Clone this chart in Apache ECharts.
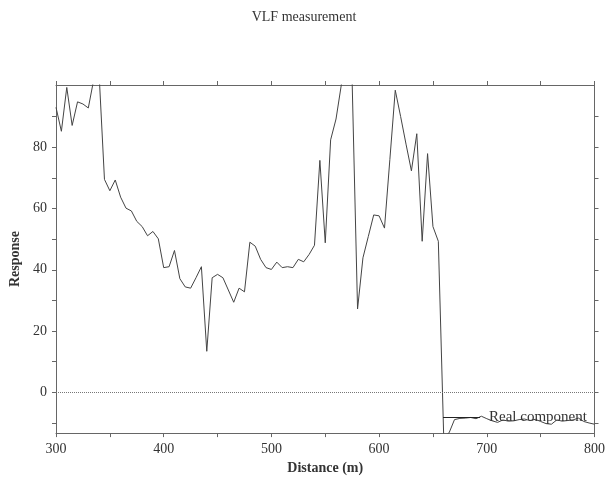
<!DOCTYPE html>
<html>
<head>
<meta charset="utf-8">
<script src="https://cdn.jsdelivr.net/npm/echarts@6/dist/echarts.min.js"></script>
<style>html,body{margin:0;padding:0;background:#fff}#c{width:608px;height:480px}</style>
</head>
<body>
<div id="c"></div>
<script>
var titleText = 'VLF measurement';
var seriesName = 'Real component';
var xName = 'Distance (m)';
var yName = 'Response';

var distance = [300,305,310,315,320,325,330,335,340,345,350,355,360,365,370,375,380,385,390,395,
  400,405,410,415,420,425,430,435,440,445,450,455,460,465,470,475,480,485,490,495,
  500,505,510,515,520,525,530,535,540,545,550,555,560,565,570,575,580,585,590,595,
  600,605,610,615,620,625,630,635,640,645,650,655,660,665,670,675,680,685,690,695,
  700,705,710,715,720,725,730,735,740,745,750,755,760,765,770,775,780,785,790,795,800];
var response = [93.0,85.2,99.5,87.1,94.8,94.1,92.8,102,104,69.5,65.8,69.3,63.7,60.1,59.2,55.8,54.1,51.1,52.5,50.1,
  40.7,41.0,46.3,37.1,34.4,34.0,37.4,41.0,13.4,37.4,38.5,37.4,33.4,29.4,34.0,32.8,49.0,47.7,43.4,40.7,
  40.1,42.5,40.7,41.0,40.7,43.4,42.6,45.0,48.0,75.7,48.8,82.4,89.2,100.5,108,101,27.2,43.9,50.9,57.9,
  57.6,53.6,76,98.6,90,81,72.3,84.4,49.3,77.9,54.1,49.3,-14.5,-13.2,-8.9,-8.5,-8.4,-8.2,-8.6,-7.8,
  -8.6,-9.3,-9.8,-9.0,-9.4,-9.3,-8.9,-8.7,-9.2,-8.8,-9.5,-10.2,-10.4,-9.0,-9.4,-9.2,-9.0,-8.4,-9.5,-10.0,-10.4];
var xLabelValues = [300,400,500,600,700,800];
var yLabelValues = [0,20,40,60,80];
var yTickValues = [-10,0,10,20,30,40,50,60,70,80,90];

var font = 'Liberation Serif';
var axisColor = '#666';
var chart = echarts.init(document.getElementById('c'), null, {renderer:'canvas'});
var pts = distance.map(function(d,i){return [d, response[i]];});
var option = {
  animation: false,
  backgroundColor: '#fff',
  title: {text: titleText, left: 'center', top: 5, textStyle: {fontFamily: font, fontSize: 14, fontWeight: 'normal', color: '#333'}},
  legend: {left: 443, top: 410, padding: 0, itemWidth: 37, itemHeight: 1, icon: 'rect', itemGap: 0,
    data: [{name: seriesName, itemStyle: {color: '#222'}}],
    textStyle: {fontFamily: font, fontSize: 15, color: '#333', padding: [0,0,0,4]}},
  grid: {left: 56, right: 12, top: 85, bottom: 45},
  xAxis: [{
    type: 'value', min: 300, max: 800, interval: 50, position: 'bottom',
    name: xName, nameLocation: 'middle', nameGap: 26,
    nameTextStyle: {fontFamily: font, fontSize: 14, fontWeight: 'bold', color: '#333'},
    axisLine: {show: true, onZero: false, lineStyle: {color: axisColor}},
    axisTick: {show: true, inside: false, length: 4, lineStyle: {color: axisColor}},
    axisLabel: {customValues: xLabelValues, fontFamily: font, fontSize: 14, color: '#333', margin: 9},
    splitLine: {show: false}
  },{
    type: 'value', min: 300, max: 800, interval: 50, position: 'top',
    axisLine: {show: true, onZero: false, lineStyle: {color: axisColor}},
    axisTick: {show: true, inside: false, length: 4, lineStyle: {color: axisColor}},
    axisLabel: {show: false}, splitLine: {show: false}
  }],
  yAxis: [{
    type: 'value', min: -13.3, max: 100.3, position: 'left',
    name: yName, nameLocation: 'middle', nameGap: 31, nameRotate: 90,
    nameTextStyle: {fontFamily: font, fontSize: 14, fontWeight: 'bold', color: '#333'},
    axisLine: {show: true, onZero: false, lineStyle: {color: axisColor}},
    axisTick: {show: true, inside: false, length: 4, customValues: yTickValues, lineStyle: {color: axisColor}},
    axisLabel: {customValues: yLabelValues, fontFamily: font, fontSize: 14, color: '#333', margin: 9},
    splitLine: {show: false}
  },{
    type: 'value', min: -13.3, max: 100.3, position: 'right',
    axisLine: {show: true, onZero: false, lineStyle: {color: axisColor}},
    axisTick: {show: true, inside: false, length: 4, customValues: yTickValues, lineStyle: {color: axisColor}},
    axisLabel: {show: false}, splitLine: {show: false}
  }],
  series: [{
    name: seriesName, type: 'line', data: pts, symbol: 'none', clip: true,
    lineStyle: {color: '#444', width: 1},
    itemStyle: {color: '#222'},
    markLine: {silent: true, symbol: ['none','none'], label: {show: false},
      lineStyle: {color: '#777', type: 'dotted', width: 1},
      data: [{yAxis: 0}]}
  }]
};
chart.setOption(option);
</script>
</body>
</html>
